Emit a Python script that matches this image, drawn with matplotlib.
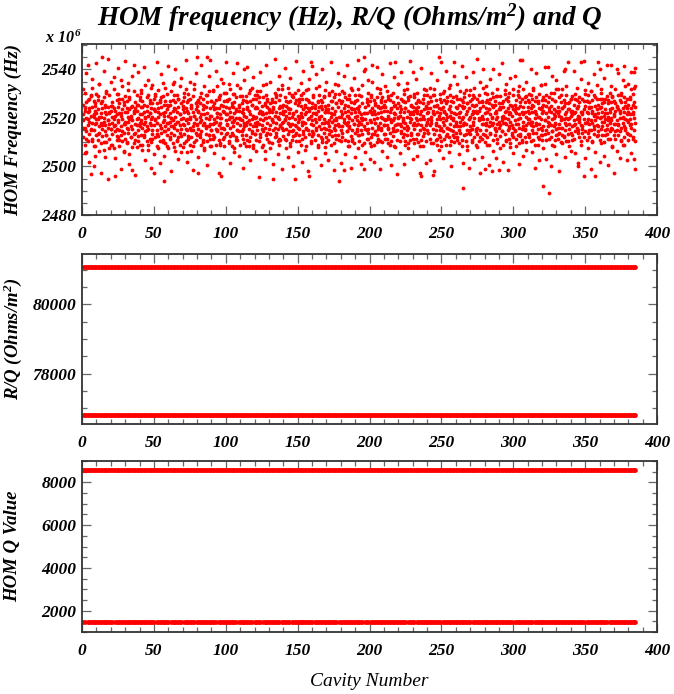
import numpy as np
import matplotlib
matplotlib.use("Agg")
import matplotlib.pyplot as plt
from matplotlib.ticker import MultipleLocator, FuncFormatter

# ---------------- data ----------------
# HOM frequency of each mode, in units of 0.5 MHz above 2480 MHz.
# Modes 1-4 of each cavity, 10 cavities per row (cavities 1..385)
freq_rows_m1_4 = [
"78 91 64 83 72 101 58 86 69 80 93 52 85 124 74 61 96 77 67 88 34 82 71 98 63 89 76 105 81 57 94 70 75 86 49 90 66 79 100 84",
"87 62 79 95 73 108 81 68 92 76 59 84 130 71 88 65 80 97 54 77 69 85 91 74 102 66 83 60 30 78 89 72 84 63 99 75 58 90 71 86",
"76 93 67 81 88 55 79 104 32 74 86 69 95 71 62 83 78 89 100 64 70 84 57 92 82 111 73 66 61 87 79 96 91 68 75 53 77 98 85 63",
"85 72 94 60 68 81 77 103 79 96 50 87 73 64 89 82 37 90 71 78 124 67 84 59 93 75 62 88 56 86 99 74 80 70 91 65 97 83 58 76",
"66 89 78 101 83 58 72 94 75 91 64 85 107 77 69 80 90 61 86 73 71 99 54 82 84 76 95 63 60 88 79 105 92 70 81 67 35 87 74 96",
"79 64 98 86 70 92 76 57 88 81 65 103 74 95 83 61 97 68 72 89 62 84 109 77 28 78 91 69 85 73 59 94 76 100 87 66 82 55 71 90",
"91 77 63 84 68 102 80 73 86 59 95 78 72 88 66 110 53 81 93 75 99 70 85 62 77 64 89 96 83 106 74 58 65 79 92 71 94 87 56 80",
"74 97 85 67 88 61 78 104 79 93 70 52 63 84 100 76 96 72 81 58 70 89 64 91 85 57 98 73 60 82 76 108 92 68 87 79 130 75 66 90",
"35 86 71 95 81 64 92 77 69 101 83 58 87 74 62 96 76 90 55 83 99 67 80 72 130 84 61 93 73 79 102 66 128 88 75 63 82 57 94 70",
"90 75 66 103 64 87 79 92 77 58 95 71 84 106 70 81 97 62 88 74 59 83 76 99 32 91 80 68 86 72 109 63 71 94 57 85 101 78 67 89",
"83 68 94 75 96 79 61 88 72 104 85 65 57 81 90 77 89 66 73 100 78 93 55 84 64 87 80 97 107 70 76 62 80 91 69 86 74 58 98 79",
"69 85 78 92 95 63 87 71 120 76 82 59 81 98 66 74 62 89 93 77 86 71 57 101 75 94 83 64 91 68 105 79 58 82 73 96 88 76 99 67",
"96 73 81 62 70 88 99 77 84 61 75 93 67 102 86 79 90 74 56 85 78 97 69 83 53 80 91 72 99 66 84 108 76 89 63 94 81 71 87 60",
"74 92 67 86 85 59 96 79 30 77 89 70 93 82 64 101 68 76 85 97 104 71 80 61 79 95 58 88 62 84 73 99 89 72 107 76 77 65 91 83",
"86 78 63 97 71 90 82 55 93 67 76 88 80 101 69 84 59 87 94 73 75 62 99 81 97 83 70 65 30 74 92 79 68 95 61 86 82 72 103 77",
"79 93 71 66 90 58 84 99 63 81 74 96 101 69 87 77 76 91 64 83 85 72 96 57 70 88 79 104 32 86 67 93 126 75 82 61 92 78 69 89",
"67 84 97 74 88 62 79 91 77 105 70 83 94 66 86 58 73 89 81 99 82 71 64 95 60 93 76 87 98 79 68 72 85 56 90 103 71 87 77 64",
"91 76 62 85 78 99 73 67 84 69 94 81 65 88 77 102 97 72 83 59 74 86 100 70 80 63 92 78 89 107 75 66 28 81 95 73 86 70 61 92",
"73 94 83 68 37 79 88 101 85 62 76 97 96 74 69 82 61 90 86 77 80 57 99 72 93 84 65 88 70 103 78 63 87 75 92 59 99 68 81 85",
"82 69 95 78 66 87 74 104 90 77 61 85 75 98 83 70 58 80 92 67 130 38 84 73 120 71 89 79 84 63 76 96 71 91 68 101 94 78 59 86",
"77 85 64 99 124 72 88 67 86 58 95 79 69 91 76 83 97 66 80 105 63 84 73 90 88 76 101 61 72 93 85 70 80 60 89 97 91 79 67 74",
"89 67 78 94 74 102 86 63 82 71 59 96 95 79 68 85 61 88 77 99 78 93 65 72 84 57 90 80 126 74 83 69 70 97 62 88 92 81 108 75",
"75 90 82 61 96 73 69 87 80 64 94 78 67 85 100 72 88 76 58 93 104 70 81 66 72 95 86 59 83 62 77 98 91 79 68 85 118 74 89 63",
"86 71 97 76 63 88 80 92 78 101 67 84 94 75 60 89 70 83 93 57 32 79 86 74 82 96 72 65 99 68 87 79 74 90 61 103 88 77 84 70",
"68 92 79 85 97 74 63 88 81 59 94 76 33 86 71 99 90 67 83 104 76 95 70 62 85 79 91 58 130 73 88 66 79 100 64 84 93 72 57 87",
"80 89 69 101 74 63 86 95 92 78 58 83 67 97 81 72 87 71 105 64 99 82 75 90 61 94 70 85 78 66 93 80 126 84 73 60 83 98 68 77",
"96 73 64 88 70 91 84 59 85 77 102 68 62 95 79 90 22 81 74 93 89 66 97 76 75 103 83 61 92 70 57 86 79 88 68 99 67 81 94 73",
"83 96 71 62 77 86 99 74 64 90 80 105 91 69 85 58 72 84 96 67 86 61 78 93 35 79 88 70 94 75 63 82 120 67 90 79 75 101 84 60",
"70 88 93 76 85 64 79 100 92 73 58 87 77 96 68 83 36 81 91 74 89 62 76 97 66 94 84 71 98 79 69 86 81 59 104 75 37 87 72 92",
"87 74 98 65 69 92 81 78 94 58 76 89 80 103 67 85 75 86 62 96 97 70 88 79 63 83 101 72 84 77 56 91 90 66 82 74 72 99 87 64",
"78 91 69 86 95 63 84 75 66 88 102 79 83 72 59 97 128 80 67 90 71 96 85 62 89 77 73 104 64 85 93 70 98 74 81 60 76 89 67 95",
"93 67 79 84 74 99 88 61 85 70 96 77 62 90 73 105 80 58 86 94 97 76 68 83 71 92 81 64 88 63 100 75 79 107 72 87 66 84 95 70",
"24 86 73 91 122 78 67 95 84 70 99 62 77 93 81 68 18 88 76 97 90 64 85 74 69 96 79 58 101 73 87 80 75 82 62 94 86 104 71 66",
"72 89 84 63 97 75 68 86 81 60 93 78 88 72 104 66 64 90 79 95 120 70 83 76 85 99 61 74 79 67 92 87 93 80 57 71 68 85 96 82",
"86 73 98 66 78 91 63 84 69 85 100 75 95 79 72 88 40 82 90 70 81 64 97 77 126 74 85 61 73 96 68 83 32 87 79 94 90 69 76 103",
"77 94 85 62 84 68 79 99 93 75 64 88 70 89 102 78 86 61 76 95 99 82 71 67 32 78 90 83 65 87 74 96 126 73 84 69 80 96 62 88",
"89 71 81 104 73 96 66 85 82 60 93 77 96 79 70 87 67 84 98 74 78 92 63 81 85 69 101 76 124 80 72 93 71 88 57 97 94 75 83 66",
"75 86 92 63 120 78 70 89 87 66 99 74 69 95 80 84 93 72 61 101 81 88 76 58 64 97 85 73 90 70 106 79 78 83 68 96 85 62 91 77",
"83 97 66 79 72 88 104 75 91 64 85 100 118 80 70 93 38 106 76 61",
]
# Modes 5-6 of each cavity, 20 cavities per row
freq_rows_m5_6 = [
"72 104 88 51 63 117 95 79 44 86 70 99 112 61 83 40 57 92 76 125 67 98 108 53 81 35 94 74 60 119 89 48 101 66 78 129 55 85 71 110",
"90 58 73 114 47 82 100 65 121 77 62 96 84 38 106 69 93 52 75 127 59 88 109 71 42 97 80 64 115 56 86 102 68 33 91 79 118 61 73 95",
"103 76 54 89 66 122 81 45 97 70 111 58 84 92 39 74 63 107 87 50 78 100 67 126 55 85 93 43 72 116 60 98 82 49 105 69 91 57 123 76",
"64 94 80 36 108 73 56 99 87 120 61 77 46 96 83 68 113 52 90 75 101 59 128 71 86 44 95 65 79 110 53 88 70 37 104 82 62 117 74 93",
"85 48 97 67 124 78 60 91 54 106 73 89 41 99 66 115 82 57 94 70 63 102 76 51 88 119 69 84 35 96 80 58 112 72 90 47 101 64 83 126",
"74 95 59 108 81 43 92 68 117 77 52 100 86 62 125 70 49 89 79 105 98 66 84 39 111 73 57 94 87 122 61 78 45 103 69 91 55 114 80 67",
"89 53 102 76 31 97 64 118 83 71 107 58 92 46 80 124 68 96 60 85 55 110 78 93 42 87 72 129 65 99 50 81 115 63 90 74 104 38 86 70",
"79 121 62 94 48 105 75 87 57 113 69 98 40 84 101 66 127 73 91 52 96 61 82 109 44 77 119 67 89 54 103 71 36 95 80 112 59 88 65 123",
"68 99 84 47 116 72 93 56 106 79 41 90 63 120 76 97 51 85 110 60 87 45 101 70 126 58 83 94 37 78 108 66 92 53 117 74 62 100 81 43",
"102 64 77 115 50 91 69 124 82 57 96 73 39 105 87 61 113 75 48 94 71 88 128 55 99 66 80 42 107 78 59 119 84 52 93 70 111 63 86 46",
"57 97 83 110 67 44 92 76 122 60 89 71 104 38 81 95 53 116 74 86 106 63 79 48 98 72 125 58 87 41 101 69 84 114 56 91 75 34 108 80",
"85 51 118 68 94 77 42 103 61 88 109 73 55 97 80 127 66 90 46 83 59 100 74 112 49 86 67 95 35 79 121 62 92 57 104 71 88 43 99 76",
"93 68 45 105 78 117 59 84 99 36 74 90 63 111 82 54 96 70 126 61 77 47 102 85 65 119 72 94 52 87 107 58 80 40 97 69 115 64 89 75",
"62 108 81 50 96 73 123 57 88 43 101 76 67 114 54 92 79 39 103 70 91 60 118 84 46 97 71 86 129 56 80 99 64 110 48 93 75 105 66 38",
"106 74 58 95 41 87 112 67 80 101 53 120 72 91 47 84 98 63 116 77 55 89 69 125 82 44 100 76 61 108 37 94 73 85 113 59 90 68 104 51",
"70 115 88 57 99 75 42 106 65 93 128 60 83 49 97 71 110 54 86 79 100 64 77 120 52 91 68 103 39 85 74 117 58 94 81 45 107 66 89 62",
"97 55 78 108 46 90 73 122 63 86 40 101 69 115 83 57 94 76 50 111 67 104 82 36 99 72 88 59 119 65 92 48 80 106 61 126 75 87 53 96",
"83 62 119 74 96 51 88 105 68 43 93 79 112 58 85 71 127 64 100 47 76 94 55 109 70 89 38 102 84 60 116 73 97 52 81 107 66 91 44 120",
"59 101 77 92 49 113 66 84 124 71 95 41 87 63 106 78 56 98 35 82 104 69 90 53 117 75 86 47 99 62 111 80 58 123 72 93 45 88 67 108",
"74 96 51 118 83 63 105 46 121 89",
]
freq_base_mhz = 2480
freq_unit_mhz = 0.5

# R/Q of the two modes (Ohms/m^2), all cavities
n_cav = 385
rq_mode_a = [81080] * n_cav
rq_mode_b = [76800] * n_cav

# Q of the two modes, all cavities (mode b missing for a few cavities)
q_mode_a = [8560] * n_cav
q_mode_b = [1460] * n_cav
q_mode_b_missing = [3, 22, 51, 61, 70, 79, 94, 108, 119, 125, 138, 145, 161,
                    178, 196, 200, 226, 232, 250, 271, 300, 314, 350, 366]

title_text = r"HOM frequency (Hz), R/Q (Ohms/m$^{2}$) and Q"
ylab_freq = "HOM Frequency (Hz)"
ylab_rq = r"R/Q (Ohms/m$^{2}$)"
ylab_q = "HOM Q Value"
xlab = "Cavity Number"

# ---------------- build series ----------------
cav_numbers = np.arange(1, n_cav + 1)


def parse(rows, per_cav):
    vals = []
    for row in rows:
        vals.extend(int(v) for v in row.split())
    vals = np.array(vals, dtype=float) * freq_unit_mhz + freq_base_mhz
    cav = np.repeat(cav_numbers, per_cav)[:len(vals)]
    return cav, vals


c1, f1 = parse(freq_rows_m1_4, 4)
c2, f2 = parse(freq_rows_m5_6, 2)
freq_cav = np.concatenate([c1, c2])
freq_vals = np.concatenate([f1, f2])

qb_cav = np.array([c for c in cav_numbers if c not in q_mode_b_missing])
qb_val = np.array([q_mode_b[c - 1] for c in qb_cav])

# ---------------- style ----------------
plt.rcParams["font.family"] = ["Liberation Serif", "DejaVu Serif"]
plt.rcParams["font.weight"] = "bold"
plt.rcParams["font.style"] = "italic"
plt.rcParams["mathtext.fontset"] = "custom"
plt.rcParams["mathtext.rm"] = "Liberation Serif:bold:italic"
plt.rcParams["mathtext.it"] = "Liberation Serif:bold:italic"
plt.rcParams["mathtext.bf"] = "Liberation Serif:bold:italic"

RED = "#ff0000"
W, H = 674, 694
fig = plt.figure(figsize=(W / 100, H / 100), dpi=100)


def add_axes(top_px, bottom_px):
    left_px, right_px = 82, 657
    return fig.add_axes([left_px / W, (H - bottom_px) / H,
                         (right_px - left_px) / W, (bottom_px - top_px) / H])


def style_axes(ax, ymaj, ymin):
    ax.set_xlim(0, 400)
    ax.xaxis.set_major_locator(MultipleLocator(50))
    ax.xaxis.set_minor_locator(MultipleLocator(10))
    ax.yaxis.set_major_locator(MultipleLocator(ymaj))
    ax.yaxis.set_minor_locator(MultipleLocator(ymin))
    fmt = FuncFormatter(lambda v, p: "%d" % round(v))
    ax.xaxis.set_major_formatter(fmt)
    ax.yaxis.set_major_formatter(fmt)
    ax.tick_params(which="both", direction="in", top=True, right=True,
                   color="#666666", width=0.9)
    ax.tick_params(which="major", length=6.5)
    ax.tick_params(which="minor", length=3.5)
    ax.tick_params(axis="x", which="major", labelsize=12.5, pad=8)
    ax.tick_params(axis="y", which="major", labelsize=12.5, pad=4)
    for s in ax.spines.values():
        s.set_color("#333333")
        s.set_linewidth(1.3)


# top panel: frequency
ax1 = add_axes(44, 215)
ax1.plot(freq_cav, freq_vals, "o", ms=2.75, color=RED, mew=0, ls="none")
ax1.set_ylim(2480, 2550.5)
style_axes(ax1, 20, 5)

# middle panel: R/Q
ax2 = add_axes(254, 424)
ax2.plot(cav_numbers, rq_mode_a, "o", ms=3.4, color=RED, mew=0, ls="none")
ax2.plot(cav_numbers, rq_mode_b, "o", ms=3.4, color=RED, mew=0, ls="none")
ax2.set_ylim(76540, 81460)
style_axes(ax2, 2000, 500)

# bottom panel: Q
ax3 = add_axes(461, 632)
ax3.plot(cav_numbers, q_mode_a, "o", ms=3.4, color=RED, mew=0, ls="none")
ax3.plot(qb_cav, qb_val, "o", ms=3.4, color=RED, mew=0, ls="none")
ax3.set_ylim(1000, 9000)
style_axes(ax3, 2000, 500)

# texts
fig.text(350 / W, 1 - 18 / H, title_text, ha="center", va="center",
         fontsize=19.5)
fig.text(13 / W, 1 - 129.5 / H, ylab_freq, rotation=90, ha="center",
         va="center", fontsize=13.5)
fig.text(13 / W, 1 - 339 / H, ylab_rq, rotation=90, ha="center",
         va="center", fontsize=13.5)
fig.text(13 / W, 1 - 546.5 / H, ylab_q, rotation=90, ha="center",
         va="center", fontsize=13.5)
fig.text(369.5 / W, 1 - 681 / H, xlab, ha="center", va="center",
         fontsize=14, weight="normal")
fig.text(45 / W, 1 - 38 / H, r"x 10$^{\,6}$", ha="left", va="center",
         fontsize=11.5)

fig.savefig("out.png", dpi=100)
